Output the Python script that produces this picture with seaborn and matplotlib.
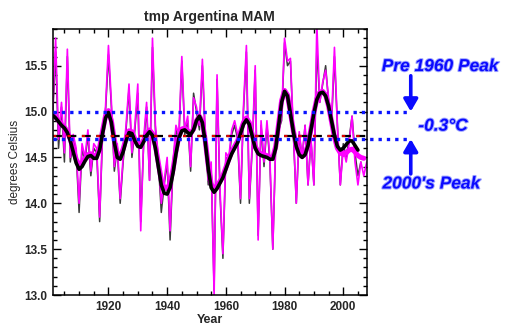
import numpy as np
import pandas as pd
import matplotlib
matplotlib.use("Agg")
import matplotlib.pyplot as plt
import matplotlib.patheffects as pe
from matplotlib.ticker import MultipleLocator
import seaborn as sns

# ---- data -------------------------------------------------------------
years_a = list(range(1901, 2007))   # grey annual series
years_b = list(range(1901, 2009))   # magenta annual series

annual_a = [14.95, 15.65, 14.60, 15.05, 14.45, 15.60, 14.45, 14.70, 14.55, 13.90,
            14.60, 14.45, 14.75, 14.30, 14.60, 14.55, 13.80, 14.75, 15.00, 15.62,
            15.05, 14.35, 14.60, 14.00, 14.45, 14.80, 15.25, 14.50, 14.80, 15.20,
            13.80, 14.65, 15.05, 14.25, 15.70, 14.80, 14.45, 13.90, 14.20, 14.45,
            13.60, 14.40, 14.80, 14.70, 15.55, 14.75, 14.90, 14.35, 15.20, 15.00,
            14.80, 15.50, 14.70, 14.20, 14.40, 13.05, 15.35, 14.10, 13.40, 14.50,
            14.45, 14.75, 14.85, 14.70, 14.00, 15.00, 15.65, 14.00, 14.60, 15.45,
            13.65, 14.85, 14.40, 14.85, 14.45, 13.50, 14.65, 14.80, 14.90, 15.75,
            15.50, 15.55, 14.75, 14.00, 14.75, 14.50, 14.85, 14.20, 14.70, 14.20,
            15.70, 15.10, 15.30, 15.50, 15.10, 14.85, 15.60, 14.85, 14.20, 14.65,
            14.50, 14.70, 14.95, 14.55, 14.30, 14.45]

annual_b = [15.00, 15.80, 14.70, 15.10, 14.55, 15.68, 14.50, 14.75, 14.60, 14.00,
            14.65, 14.50, 14.80, 14.35, 14.65, 14.60, 13.85, 14.80, 15.05, 15.72,
            15.10, 14.40, 14.65, 14.05, 14.50, 14.85, 15.30, 14.55, 14.85, 15.30,
            13.70, 14.70, 15.10, 14.25, 15.80, 14.85, 14.50, 14.00, 14.25, 14.50,
            13.70, 14.45, 14.85, 14.75, 15.60, 14.80, 14.95, 14.40, 15.15, 15.05,
            14.85, 15.57, 14.75, 14.25, 14.45, 13.00, 15.40, 14.15, 13.45, 14.55,
            14.50, 14.80, 14.90, 14.75, 14.05, 15.05, 15.72, 14.05, 14.65, 15.50,
            13.60, 14.90, 14.45, 14.90, 14.50, 13.50, 14.70, 14.85, 14.95, 15.80,
            15.55, 15.58, 14.80, 14.00, 14.78, 14.50, 14.85, 14.20, 14.70, 14.20,
            15.95, 15.10, 15.32, 15.45, 15.15, 14.90, 15.70, 14.85, 14.20, 14.60,
            14.45, 14.65, 14.95, 14.45, 14.20, 14.45, 14.30, 14.45]

years_sa = list(range(1901, 2006))
smooth_a = [14.96, 14.93, 14.89, 14.85, 14.82, 14.77, 14.68, 14.56, 14.44, 14.37,
            14.40, 14.46, 14.51, 14.52, 14.49, 14.49, 14.58, 14.76, 14.93, 14.99,
            14.88, 14.66, 14.50, 14.48, 14.56, 14.68, 14.77, 14.76, 14.68, 14.62,
            14.61, 14.67, 14.74, 14.78, 14.74, 14.60, 14.40, 14.20, 14.11, 14.10,
            14.17, 14.33, 14.54, 14.71, 14.79, 14.80, 14.77, 14.75, 14.80, 14.90,
            14.95, 14.88, 14.66, 14.38, 14.17, 14.12, 14.16, 14.22, 14.28, 14.37,
            14.46, 14.54, 14.60, 14.66, 14.76, 14.86, 14.91, 14.86, 14.73, 14.60,
            14.54, 14.52, 14.51, 14.50, 14.48, 14.48, 14.60, 14.85, 15.10, 15.22,
            15.17, 14.98, 14.78, 14.62, 14.53, 14.50, 14.53, 14.63, 14.80, 14.98,
            15.13, 15.20, 15.21, 15.17, 15.06, 14.90, 14.74, 14.62, 14.58, 14.60,
            14.64, 14.68, 14.68, 14.63, 14.58]

years_sb = list(range(1901, 2008))
smooth_b = [14.97, 14.94, 14.90, 14.86, 14.83, 14.78, 14.70, 14.59, 14.48, 14.42,
            14.44, 14.49, 14.53, 14.54, 14.52, 14.52, 14.61, 14.79, 14.95, 15.01,
            14.90, 14.69, 14.53, 14.51, 14.59, 14.71, 14.79, 14.78, 14.70, 14.64,
            14.63, 14.69, 14.76, 14.80, 14.76, 14.63, 14.44, 14.25, 14.17, 14.16,
            14.22, 14.37, 14.57, 14.73, 14.81, 14.82, 14.79, 14.76, 14.81, 14.90,
            14.95, 14.89, 14.68, 14.41, 14.21, 14.16, 14.19, 14.24, 14.30, 14.39,
            14.48, 14.56, 14.62, 14.68, 14.78, 14.88, 14.93, 14.88, 14.75, 14.62,
            14.56, 14.54, 14.53, 14.52, 14.50, 14.50, 14.62, 14.87, 15.12, 15.23,
            15.18, 14.99, 14.79, 14.63, 14.54, 14.51, 14.54, 14.64, 14.81, 14.99,
            15.14, 15.21, 15.22, 15.18, 15.06, 14.89, 14.72, 14.60, 14.55, 14.53,
            14.55, 14.58, 14.59, 14.56, 14.52, 14.50, 14.49]

pre1960_peak = 15.0
peak_2000s = 14.7
long_mean = 14.735

# ---- figure -----------------------------------------------------------
sns.set_theme(style="ticks")
plt.rcParams["font.family"] = ["Liberation Sans", "DejaVu Sans"]

fig = plt.figure(figsize=(5.09, 3.25), dpi=100)
ax = fig.add_axes([0.1035, 0.0923, 0.617, 0.8185])

df_a = pd.DataFrame({"Year": years_a, "T": annual_a})
df_b = pd.DataFrame({"Year": years_b, "T": annual_b})
df_sa = pd.DataFrame({"Year": years_sa, "T": smooth_a})
df_sb = pd.DataFrame({"Year": years_sb, "T": smooth_b})

sns.lineplot(data=df_a, x="Year", y="T", ax=ax, color="#3a3a3a", lw=1.1,
             estimator=None, sort=False)
sns.lineplot(data=df_b, x="Year", y="T", ax=ax, color="#ff00ff", lw=1.2,
             estimator=None, sort=False)
sns.lineplot(data=df_sb, x="Year", y="T", ax=ax, color="#ff00ff", lw=3.6,
             estimator=None, sort=False)
sns.lineplot(data=df_sa, x="Year", y="T", ax=ax, color="black", lw=2.6,
             estimator=None, sort=False)

# long-term mean: black/red dashes
ax.plot([1901, 2008], [long_mean, long_mean], color="black", lw=1.6,
        dashes=(4, 2.5))
ax.plot([1901, 2008], [long_mean, long_mean], color="#e00000", lw=1.6,
        dashes=(1.5, 5), dash_capstyle="butt")

# peak reference levels, carried out into the right margin
for lvl in (pre1960_peak, peak_2000s):
    ax.plot([1901, 2021.9], [lvl, lvl], color="#0a14ff", lw=2.4,
            linestyle=(0, (1.0, 1.5)), dash_capstyle="butt", clip_on=False,
            zorder=5)

ax.set_xlim(1901, 2008)
ax.set_ylim(13.0, 15.9)
ax.xaxis.set_major_locator(MultipleLocator(20))
ax.xaxis.set_minor_locator(MultipleLocator(5))
ax.yaxis.set_major_locator(MultipleLocator(0.5))
ax.yaxis.set_minor_locator(MultipleLocator(0.1))
ax.yaxis.set_major_formatter(matplotlib.ticker.FormatStrFormatter("%.1f"))
ax.tick_params(which="both", direction="in", top=True, right=True,
               width=1.0, color="black")
ax.tick_params(which="major", length=6, labelsize=8.5, pad=4)
ax.tick_params(which="minor", length=3)
for lab in ax.get_xticklabels() + ax.get_yticklabels():
    lab.set_fontweight("bold")
for s in ax.spines.values():
    s.set_linewidth(1.1)
    s.set_color("black")

ax.set_xlabel("Year", fontsize=9, fontweight="bold", labelpad=1)
ax.set_ylabel("degrees Celsius", fontsize=8.5, labelpad=2)
ax.set_title("tmp Argentina MAM", fontsize=10, fontweight="bold", pad=6)

# annotations in the right margin
glow = [pe.withStroke(linewidth=1.4, foreground="#a0a6ff")]
txt_kw = dict(color="#0a0aff", fontsize=12.5, fontweight="bold",
              fontstyle="italic", ha="center", va="center",
              annotation_clip=False, path_effects=glow)
ax.annotate("Pre 1960 Peak", xy=(2033.0, 15.49), **txt_kw)
ax.annotate("-0.3°C", xy=(2034.0, 14.84), **txt_kw)
ax.annotate("2000's Peak", xy=(2030.0, 14.21), **txt_kw)

arrow_kw = dict(arrowstyle="-|>,head_length=0.6,head_width=0.35",
                color="#0a0aff", lw=2.6, shrinkA=0, shrinkB=0)
ax.annotate("", xy=(2023.0, 15.0), xytext=(2023.0, 15.39),
            arrowprops=arrow_kw, annotation_clip=False)
ax.annotate("", xy=(2023.0, 14.7), xytext=(2023.0, 14.32),
            arrowprops=arrow_kw, annotation_clip=False)

fig.savefig("out.png", dpi=100)
